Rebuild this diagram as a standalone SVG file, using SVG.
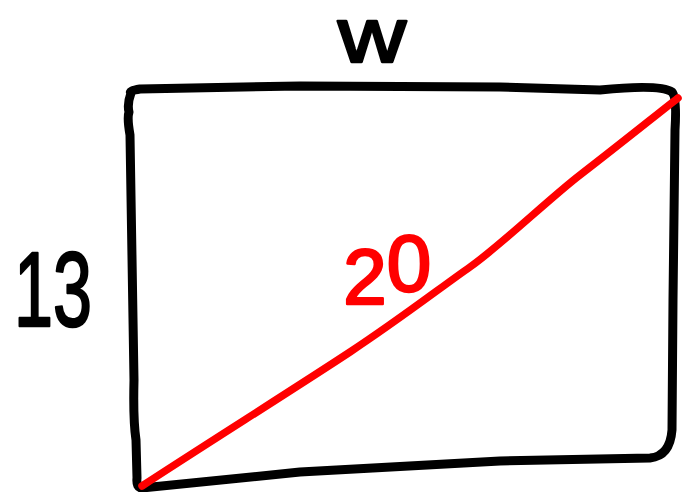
<svg xmlns="http://www.w3.org/2000/svg" width="682" height="492" viewBox="0 0 682 492">
<style>
.edge{fill:none;stroke:#000;stroke-width:9;stroke-linecap:round;stroke-linejoin:round}
.diag{fill:none;stroke:#ff0000;stroke-width:7.5;stroke-linecap:round;stroke-linejoin:round}
.lbl{font-family:"Liberation Sans","Arial",sans-serif;text-anchor:middle;stroke-width:2.5;stroke-linejoin:round}
.blk{fill:#000;stroke:#000}
.red{fill:#ff0000;stroke:#ff0000}
</style>
<rect width="682" height="492" fill="#fff"/>
<g id="rectangle">
<path class="edge" d="M131,93 Q128,91 140,89 L300,86 L500,87 L600,90 Q660,84 672,92 Q677,97 675,130 L673,300 L672,430 Q670,456 650,458 L500,461 L300,472 L142,488 Q136,488 137,478 L136,440 Q133,420 134,380 L130,135 Q127,118 129,112 Q127,104 131,93 Z"/>
</g>
<g id="connectors">
<path class="diag" d="M142,486 C200,448 300,385 350,352 S440,288 470,267 S550,198 580,175 S650,120 678,98"/>
</g>
<g id="label-w"><text class="lbl blk" x="372" y="62" font-size="78" textLength="68" lengthAdjust="spacingAndGlyphs">w</text></g>
<g id="label-13"><text class="lbl blk" x="53" y="326" font-size="106" textLength="78" lengthAdjust="spacingAndGlyphs">13</text></g>
<g id="label-20"><text class="lbl red"><tspan x="365" y="304" font-size="78">2</tspan><tspan x="409" y="291" font-size="80">0</tspan></text></g>
</svg>
